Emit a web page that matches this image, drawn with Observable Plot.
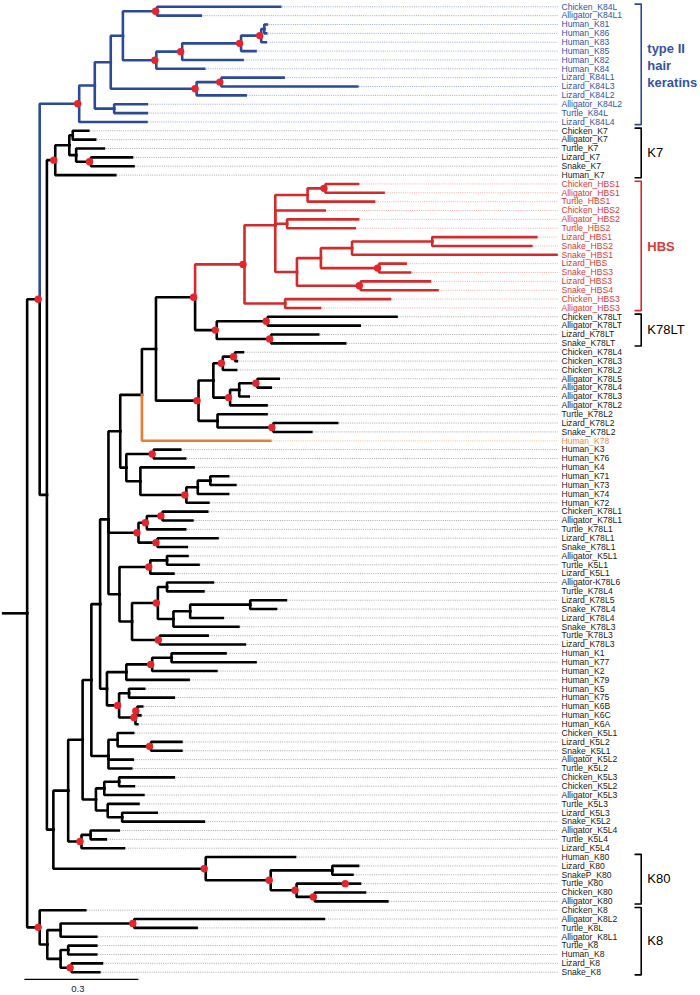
<!DOCTYPE html>
<html><head><meta charset="utf-8">
<script src="https://cdn.jsdelivr.net/npm/d3@7"></script>
<script src="https://cdn.jsdelivr.net/npm/@observablehq/plot@0.6"></script>
<style>body{margin:0;background:#fff;}#chart svg{display:block;}</style>
</head><body><div id="chart"></div>
<script>
// ---------- DATA: tree edges [parent, child, branch length (subst./site)] ----------
const backbone = [
 ["root","R",0.063],
 ["R","A",0.033],["R","K8",0.033],
 ["A","BLUE",0.104],["A","B",0.019],
 ["B","K7",0.022],["B","C",0.017],
 ["C","D",0.039],["C","K80",0.401],
 ["D","E",0.038],["D","K5L4",0.035],
 ["E","H",0.023],["E","F",0.035],
 ["H","I",0.023],["H","G",0.045],
 ["I","J",0.022],["I","AE",0.018],
 ["J","L",0.031],["J","K78L1",0.079],["J","K",0.029],
 ["L","M",0.057],["L","N",0.016],
 ["M","O",0.037],["M","Human_K78",0.338],
 ["O","HL",0.103],["O","P",0.112],
 ["HL","HBS",0.130],["HL","K78LT",0.057]
];
const hairClade = [
 ["BLUE","n94",0.041],["BLUE","Lizard_K84L4",0.177],
 ["n94","n110",0.042],["n94","AT",0.051],
 ["n110","n122",0.032],["n110","LIZ",0.226],
 ["n122","CK",0.090],["n122","HUM",0.088],
 ["CK","Chicken_K84L",0.324],["CK","Alligator_K84L1",0.115],
 ["HUM","n182",0.068],["HUM","Human_K84",0.126],
 ["n182","n241",0.155],["n182","Human_K82",0.159],
 ["n241","t1",0.053],["n241","Human_K85",0.038],
 ["t1","t2",0.008],["t1","Human_K83",0.012],
 ["t2","Human_K81",0.007],["t2","Human_K86",0.005],
 ["LIZ","n221",0.065],["LIZ","Lizard_K84L2",0.129],
 ["n221","Lizard_K84L1",0.164],["n221","Lizard_K84L3",0.358],
 ["AT","Alligator_K84L2",0.086],["AT","Turtle_K84L",0.086]
];
const k7Clade = [
 ["K7","a",0.037],["K7","Human_K7",0.158],
 ["a","b",0.009],["a","c",0.018],
 ["b","Chicken_K7",0.041],["b","Alligator_K7",0.059],
 ["c","Turtle_K7",0.073],["c","d",0.039],
 ["d","Lizard_K7",0.108],["d","Snake_K7",0.112]
];
const hbsClade = [
 ["HBS","S",0.081],["HBS","CA3",0.107],
 ["S","T",0.085],["S","Chicken_HBS2",0.130],["S","AT2",0.031],["S","U",0.057],
 ["T","CA1",0.047],["T","Turtle_HBS1",0.175],
 ["CA1","Chicken_HBS1",0.086],["CA1","Alligator_HBS1",0.153],
 ["AT2","Alligator_HBS2",0.187],["AT2","Turtle_HBS2",0.178],
 ["U","V",0.063],["U","LS4",0.168],
 ["V","W",0.082],["V","LS3",0.153],
 ["W","LS1",0.211],["W","Snake_HBS1",0.538],
 ["LS1","Lizard_HBS1",0.274],["LS1","Snake_HBS2",0.261],
 ["LS3","Lizard_HBS",0.070],["LS3","Snake_HBS3",0.082],
 ["LS4","Lizard_HBS3",0.182],["LS4","Snake_HBS4",0.202],
 ["CA3","Chicken_HBS3",0.276],["CA3","Alligator_HBS3",0.092]
];
const k78ltClade = [
 ["K78LT","CALT",0.134],["K78LT","LSLT",0.143],
 ["CALT","Chicken_K78LT",0.339],["CALT","Alligator_K78LT",0.242],
 ["LSLT","Lizard_K78LT",0.124],["LSLT","Snake_K78LT",0.195]
];
const k78l2Clade = [
 ["P","Q",0.039],["P","TN",0.050],
 ["Q","CC",0.025],["Q","AC2",0.044],
 ["CC","CC1",0.032],["CC","Chicken_K78L2",0.035],
 ["CC1","Chicken_K78L4",0.021],["CC1","Chicken_K78L3",0.005],
 ["AC2","AC3",0.024],["AC2","Alligator_K78L2",0.096],
 ["AC3","AC4",0.048],["AC3","Alligator_K78L3",0.025],
 ["AC4","Alligator_K78L5",0.056],["AC4","Alligator_K78L4",0.035],
 ["TN","Turtle_K78L2",0.129],["TN","LS2",0.147],
 ["LS2","Lizard_K78L2",0.168],["LS2","Snake_K78L2",0.100]
];
const humanK3Clade = [
 ["N","K3N",0.072],["N","X",0.037],
 ["K3N","Human_K3",0.070],["K3N","Human_K76",0.083],
 ["X","Human_K4",0.140],["X","Y",0.121],
 ["Y","Z",0.030],["Y","Human_K72",0.058],
 ["Z","Z1",0.033],["Z","Human_K74",0.080],
 ["Z1","Human_K71",0.047],["Z1","Human_K73",0.066]
];
const k78l1Clade = [
 ["K78L1","K1a",0.022],["K78L1","K1b",0.050],
 ["K1a","K1c",0.041],["K1a","Turtle_K78L1",0.101],
 ["K1c","Chicken_K78L1",0.118],["K1c","Alligator_K78L1",0.079],
 ["K1b","Lizard_K78L1",0.158],["K1b","Snake_K78L1",0.077]
];
const k5l1Clade = [
 ["K","K5L1",0.081],["K","AA",0.033],
 ["K5L1","K5a",0.044],["K5L1","Lizard_K5L1",0.061],
 ["K5a","Alligator_K5L1",0.054],["K5a","Turtle_K5L1",0.083],
 ["AA","AB",0.068],["AA","TL3",0.073],
 ["AB","AB1",0.024],["AB","AB2",0.041],
 ["AB1","Alligator-K78L6",0.121],["AB1","Turtle_K78L4",0.096],
 ["AB2","AB3",0.044],["AB2","Snake_K78L3",0.171],
 ["AB3","AB4",0.158],["AB3","Lizard_K78L4",0.086],
 ["AB4","Lizard_K78L5",0.094],["AB4","Snake_K78L4",0.068],
 ["TL3","Turtle_K78L3",0.126],["TL3","Lizard_K78L3",0.224]
];
const humanK1Clade = [
 ["AE","AC",0.051],["AE","AD",0.032],
 ["AC","AC1",0.068],["AC","Human_K79",0.164],
 ["AC1","AC0",0.051],["AC1","Human_K2",0.169],
 ["AC0","Human_K1",0.142],["AC0","Human_K77",0.221],
 ["AD","K5n",0.026],["AD","K6n2",0.043],
 ["K5n","Human_K5",0.040],["K5n","Human_K75",0.118],
 ["K6n2","K6n1",0.005],["K6n2","Human_K6A",0.005],
 ["K6n1","Human_K6B",0.013],["K6n1","Human_K6C",0.008]
];
const k5Clades = [
 ["G","G1",0.024],["G","Alligator_K5L2",0.064],["G","Turtle_K5L2",0.060],
 ["G1","Chicken_K5L1",0.041],["G1","G2",0.088],
 ["G2","Lizard_K5L2",0.080],["G2","Snake_K5L1",0.080],
 ["F","F1",0.022],["F","F2",0.031],
 ["F1","F3",0.039],["F1","Alligator_K5L3",0.103],
 ["F3","Chicken_K5L3",0.144],["F3","Chicken_K5L2",0.039],
 ["F2","Turtle_K5L3",0.081],["F2","F4",0.038],
 ["F4","Lizard_K5L3",0.091],["F4","Snake_K5L2",0.215],
 ["K5L4","K5L4a",0.024],["K5L4","Lizard_K5L4",0.112],
 ["K5L4a","Alligator_K5L4",0.074],["K5L4a","Turtle_K5L4",0.040]
];
const k80Clade = [
 ["K80","Human_K80",0.235],["K80","K80a",0.171],
 ["K80a","K80b",0.162],["K80a","K80c",0.068],
 ["K80b","Lizard_K80",0.068],["K80b","SnakeP_K80",0.053],
 ["K80c","TU",0.132],["K80c","K80d",0.048],
 ["TU","Turtle_K80",0.035],
 ["K80d","Chicken_K80",0.132],["K80d","Alligator_K80",0.191]
];
const k8Clade = [
 ["K8","Chicken_K8",0.120],["K8","K8a",0.020],
 ["K8a","K8b",0.035],["K8a","K8c",0.035],
 ["K8b","K8d",0.194],["K8b","Alligator_K8L1",0.094],
 ["K8d","Alligator_K8L2",0.499],["K8d","Turtle_K8L",0.164],
 ["K8c","K8e",0.020],["K8c","K8f",0.029],
 ["K8e","Turtle_K8",0.074],["K8e","Human_K8",0.074],
 ["K8f","Lizard_K8",0.080],["K8f","Snake_K8",0.073]
];
// nodes with strong support (red dots)
const supported = ["A","BLUE","CK","HUM","n182","n241","t1","LIZ","n221",
 "K7","d","HL","HBS","CA1","LS3","LS4","K78LT","CALT","LSLT",
 "P","CC","CC1","AC2","AC4","LS2","K3N","Y",
 "K78L1","K1a","K1c","K1b","K5L1","AB","TL3",
 "AC1","AD","K6n2","K6n1","G2","K5L4",
 "K80","K80a","K80c","K80d","TU","K8","K8d","K8f"];
// highlighted clades: [clade root, group]
const highlighted = [["BLUE","hair"],["HBS","hbs"],["Human_K78","k78"]];
// bracket groups: [label, first leaf, last leaf, group]
const brackets = [
 ["type II\nhair\nkeratins","Chicken_K84L","Lizard_K84L4","hair"],
 ["K7","Chicken_K7","Human_K7","plain"],
 ["HBS","Chicken_HBS1","Alligator_HBS3","hbs"],
 ["K78LT","Chicken_K78LT","Snake_K78LT","plain"],
 ["K80","Human_K80","Alligator_K80","plain"],
 ["K8","Chicken_K8","Snake_K8","plain"]
];
const scaleBar = 0.3;

// ---------- STYLE ----------
const branchColor = {plain:"#000000", hair:"#2a4a9c", hbs:"#d42a2b", k78:"#ec7b33"};
const labelColor = {plain:"#1a1a1a", hair:"#3453a6", hbs:"#d93a36", k78:"#ee8a48"};
const leaderColor = {plain:"#a0a0a0", hair:"#93a3d3", hbs:"#f0a5a2", k78:"#f3b585"};
const dotColor = "#e4262c";
const LABEL_FONT = '"Liberation Sans",Arial,sans-serif';
const LEADER_END = 1.461, LABEL_X = 1.469, BRACKET_X = 1.679, TICK = 0.016, BRACKET_LABEL_X = 1.695;
const SB_X0 = 0.057, SB_ROW = 109.82, SB_LABEL_ROW = 110.85;

// ---------- LAYOUT ----------
const edges = [...backbone, ...hairClade, ...k7Clade, ...hbsClade, ...k78ltClade, ...k78l2Clade,
  ...humanK3Clade, ...k78l1Clade, ...k5l1Clade, ...humanK1Clade, ...k5Clades, ...k80Clade, ...k8Clade];
const kids = new Map(), parentOf = new Map(), blen = new Map();
for (const [p,c,l] of edges) { if (!kids.has(p)) kids.set(p, []); kids.get(p).push(c); parentOf.set(c,p); blen.set(c,l); }
const hiMap = new Map(highlighted);
const depth = new Map([["root",0]]), row = new Map(), group = new Map([["root","plain"]]);
const leaves = [];
(function walk(n) {
  if (n !== "root") {
    const p = parentOf.get(n);
    depth.set(n, depth.get(p) + blen.get(n));
    group.set(n, hiMap.get(n) || group.get(p));
  }
  const ch = kids.get(n) || [];
  if (!ch.length) { row.set(n, leaves.length); leaves.push(n); }
  else { ch.forEach(walk); row.set(n, d3.mean(ch, c => row.get(c))); }
})("root");

const links = edges.map(([p,c]) => ({x1: depth.get(p), y1: row.get(p), x2: depth.get(c), y2: row.get(c), g: group.get(c)}));
const leafData = leaves.map(n => ({name: n, x: depth.get(n), y: row.get(n), g: group.get(n)}));
const dots = supported.map(n => ({x: depth.get(n), y: row.get(n)}));
const bracketPts = [], bracketLabels = [];
for (const [label, first, last, g] of brackets) {
  const y1 = row.get(first) - 0.3, y2 = row.get(last) + 0.3;
  for (const [x,y] of [[BRACKET_X - TICK, y1],[BRACKET_X, y1],[BRACKET_X, y2],[BRACKET_X - TICK, y2]])
    bracketPts.push({label, x, y, g});
  bracketLabels.push({label, y: (y1 + y2) / 2, g, bold: g !== "plain"});
}

const order = ["plain","hair","hbs","k78"];
const chart = Plot.plot({
  width: 700, height: 995, margin: 0,
  x: {domain: [0, 1.835], range: [2.7, 700], axis: null},
  y: {domain: [0, 109], range: [6.3, 971.7], axis: null},
  color: {type: "identity"},
  style: {background: "#fff"},
  marks: [
    Plot.ruleY(leafData, {y: "y", x1: d => d.x + 0.006, x2: LEADER_END, stroke: d => leaderColor[d.g], strokeWidth: 0.9, strokeDasharray: "1,1.2"}),
    ...order.map(g => Plot.link(links.filter(d => d.g === g), {x1: "x1", y1: "y1", x2: "x2", y2: "y2", curve: "step-before", stroke: branchColor[g], strokeWidth: 2.6, strokeLinejoin: "miter", strokeLinecap: "square"})),
    Plot.dot(dots, {x: "x", y: "y", r: 3.7, fill: dotColor, dx: -1.5}),
    Plot.text(leafData, {x: LABEL_X, y: "y", text: "name", textAnchor: "start", fill: d => labelColor[d.g], fontSize: 8.6, fontFamily: LABEL_FONT}),
    Plot.line(bracketPts, {x: "x", y: "y", z: "label", stroke: d => branchColor[d.g], strokeWidth: 1.6}),
    Plot.text(bracketLabels.filter(d => d.bold), {x: BRACKET_LABEL_X, y: "y", text: "label", textAnchor: "start", fill: d => labelColor[d.g], fontSize: 13, fontWeight: "bold", lineHeight: 1.3, fontFamily: '"Liberation Sans",Arial,sans-serif'}),
    Plot.text(bracketLabels.filter(d => !d.bold), {x: BRACKET_LABEL_X, y: "y", text: "label", textAnchor: "start", fill: "#000", fontSize: 13, fontFamily: '"Liberation Sans",Arial,sans-serif'}),
    Plot.ruleY([scaleBar], {y: SB_ROW, x1: SB_X0, x2: d => SB_X0 + d, stroke: "#000", strokeWidth: 1.2}),
    Plot.text([scaleBar], {x: d => SB_X0 + d / 2, y: SB_LABEL_ROW, text: d => String(d), fontSize: 9.5, fill: "#222", dx: -4, fontFamily: LABEL_FONT})
  ]
});
document.getElementById("chart").append(chart);
</script>
</body></html>
